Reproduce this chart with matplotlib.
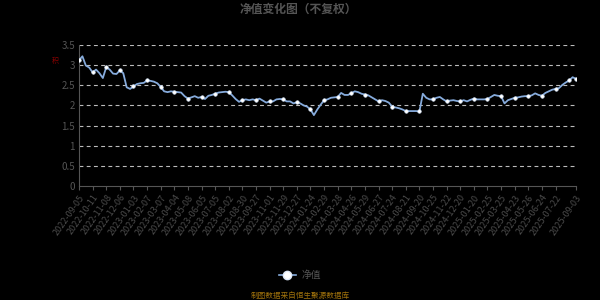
import matplotlib
matplotlib.use("Agg")
import matplotlib.pyplot as plt
from matplotlib.lines import Line2D

plt.rcParams['font.family'] = ['Noto Sans CJK SC', 'DejaVu Sans']

title = "净值变化图（不复权）"
series_name = "净值"
footer = "制图数据来自恒生聚源数据库"

# net value sampled every ~5 trading days, 2022-09-05 .. 2025-09-03
nav = [3.12, 3.22, 2.99, 2.94, 2.82, 2.89, 2.80, 2.68, 2.95, 2.89,
       2.79, 2.78, 2.87, 2.80, 2.45, 2.41, 2.47, 2.53, 2.55, 2.56,
       2.62, 2.61, 2.59, 2.55, 2.46, 2.35, 2.33, 2.35, 2.34, 2.33,
       2.32, 2.23, 2.17, 2.20, 2.23, 2.19, 2.21, 2.16, 2.24, 2.26,
       2.29, 2.32, 2.33, 2.34, 2.33, 2.25, 2.16, 2.09, 2.13, 2.15,
       2.13, 2.15, 2.13, 2.17, 2.12, 2.07, 2.10, 2.10, 2.15, 2.16,
       2.15, 2.10, 2.10, 2.05, 2.08, 2.05, 2.00, 1.97, 1.90, 1.76,
       1.90, 2.02, 2.13, 2.15, 2.19, 2.20, 2.21, 2.31, 2.26, 2.26,
       2.30, 2.35, 2.33, 2.29, 2.27, 2.25, 2.20, 2.15, 2.10, 2.13,
       2.11, 2.07, 1.97, 1.95, 1.93, 1.90, 1.86, 1.86, 1.86, 1.86,
       1.85, 2.29, 2.19, 2.15, 2.15, 2.19, 2.21, 2.15, 2.10, 2.12,
       2.13, 2.11, 2.10, 2.13, 2.10, 2.14, 2.17, 2.15, 2.15, 2.15,
       2.16, 2.21, 2.26, 2.24, 2.23, 2.05, 2.13, 2.16, 2.19, 2.20,
       2.22, 2.23, 2.23, 2.25, 2.30, 2.26, 2.24, 2.31, 2.35, 2.39,
       2.41, 2.43, 2.51, 2.57, 2.62, 2.70, 2.66]

tick_labels = ["2022-09-05", "2022-10-11", "2022-11-08", "2022-12-06",
               "2023-01-03", "2023-02-07", "2023-03-07", "2023-04-04",
               "2023-05-08", "2023-06-05", "2023-07-05", "2023-08-02",
               "2023-08-30", "2023-09-27", "2023-11-01", "2023-11-29",
               "2023-12-27", "2024-01-24", "2024-02-29", "2024-03-28",
               "2024-04-26", "2024-05-29", "2024-06-27", "2024-07-24",
               "2024-08-21", "2024-09-20", "2024-10-25", "2024-11-22",
               "2024-12-20", "2025-01-20", "2025-02-25", "2025-03-25",
               "2025-04-23", "2025-05-26", "2025-06-24", "2025-07-22",
               "2025-09-03"]

y_ticks = [0, 0.5, 1, 1.5, 2, 2.5, 3, 3.5]
y_tick_labels = ["0", "0.5", "1", "1.5", "2", "2.5", "3", "3.5"]

fig = plt.figure(figsize=(6, 3), dpi=100, facecolor="black")
ax = fig.add_axes([0.1317, 0.38, 0.8283, 0.47], facecolor="black")

n = len(nav)
x = list(range(n))
step = 4
mark_idx = list(range(0, n, step))
if mark_idx[-1] != n - 1:
    mark_idx.append(n - 1)

ax.plot(x, nav, color="#86abdc", lw=1.3, zorder=3,
        marker="o", markevery=mark_idx, markersize=2.6,
        markerfacecolor="white", markeredgecolor="#cfe0f5", markeredgewidth=0.4)

ax.set_xlim(0, n - 1)
ax.set_ylim(0, 3.5)

tick_pos = list(range(0, step * (len(tick_labels) - 1), step)) + [n - 1]
ax.set_xticks(tick_pos)
ax.set_xticklabels(tick_labels, rotation=55, ha="right", rotation_mode="anchor",
                   fontsize=6.5, color="#4a4a4a")
ax.set_yticks(y_ticks)
ax.set_yticklabels(y_tick_labels, fontsize=7, color="#555555")

for v in y_ticks[1:]:
    ax.axhline(v, color="#bbbbbb", lw=0.8, ls=(0, (3.5, 3)), zorder=1)

for s in ["top", "right"]:
    ax.spines[s].set_visible(False)
ax.spines["left"].set_color("#555555")
ax.spines["bottom"].set_color("#555555")
ax.spines["left"].set_linewidth(0.8)
ax.spines["bottom"].set_linewidth(0.8)
ax.tick_params(axis="y", length=0, pad=3)
ax.tick_params(axis="x", length=3, color="#555555", pad=2)

fig.text(0.497, 0.968, title, ha="center", va="center", fontsize=8.5,
         fontweight="bold", color="#555555")
fig.text(0.092, 0.797, "积", ha="center", va="center", fontsize=5, color="#8b0000")

# legend
leg_handle = Line2D([0], [0], color="#86abdc", lw=1.2, marker="o", markersize=6,
                    markerfacecolor="white", markeredgecolor="#dde8f8")
fig.legend([leg_handle], [series_name], loc="center", bbox_to_anchor=(0.5, 0.083),
           frameon=False, fontsize=7, labelcolor="#555555", handlelength=1.8,
           handletextpad=0.6)

fig.text(0.5, 0.015, footer, ha="center", va="center", fontsize=5.5, color="#a0720c")

fig.savefig("out.png", dpi=100, facecolor="black")
